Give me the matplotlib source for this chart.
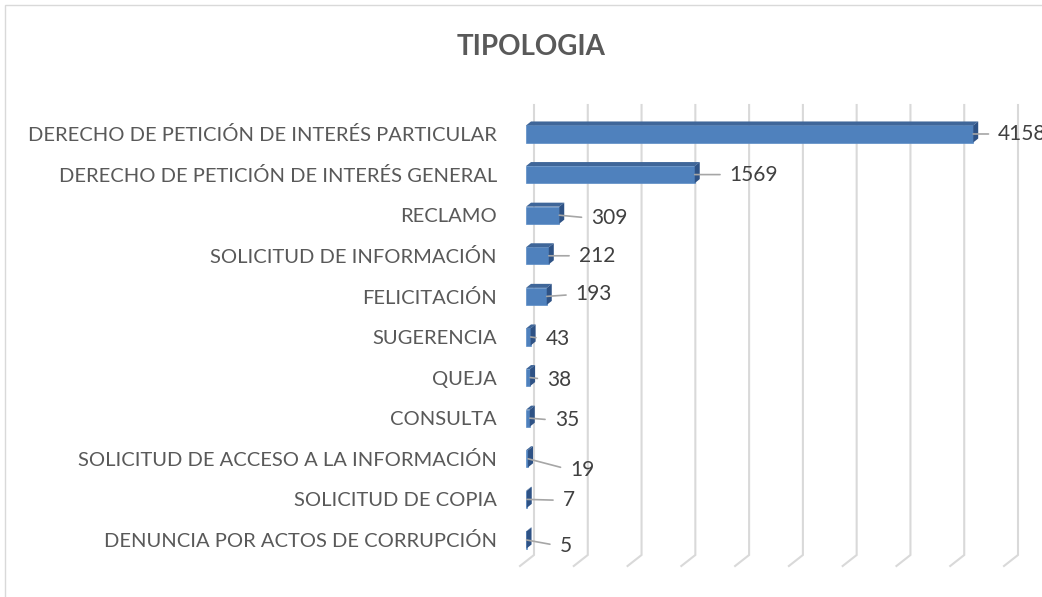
#Program to draw the TIPOLOGIA 3D-style bar chart
import matplotlib.pyplot as plt
from matplotlib.patches import Polygon, Rectangle

categorias = ['DERECHO DE PETICIÓN DE INTERÉS PARTICULAR',
              'DERECHO DE PETICIÓN DE INTERÉS GENERAL',
              'RECLAMO',
              'SOLICITUD DE INFORMACIÓN',
              'FELICITACIÓN',
              'SUGERENCIA',
              'QUEJA',
              'CONSULTA',
              'SOLICITUD DE ACCESO A LA INFORMACIÓN',
              'SOLICITUD DE COPIA',
              'DENUNCIA POR ACTOS DE CORRUPCIÓN']
cantidades = [4158, 1569, 309, 212, 193, 43, 38, 35, 19, 7, 5]
grid_ticks = [0, 500, 1000, 1500, 2000, 2500, 3000, 3500, 4000, 4500]

# label offsets (pixels) from the end of each bar
label_dx = [25, 35, 32, 30, 29, 15, 17, 25, 42, 36, 33]
label_dy = [0, 0, 3, 0, -2, 2, 2, 2, 11, 1, 6]

W, H = 1042, 597
plt.rcParams['font.family'] = ['Lato', 'DejaVu Sans']
fig = plt.figure(figsize=(W / 100, H / 100), dpi=100)

ax_left, ax_right, ax_top, ax_bottom = 526, 1010, 105, 555
ax = fig.add_axes([ax_left / W, (H - ax_bottom) / H,
                   (ax_right - ax_left) / W, (ax_bottom - ax_top) / H])
xmax = 4500
ylo, yhi = -0.714, 10.37
ax.set_xlim(0, xmax)
ax.set_ylim(yhi, ylo)

ppu_x = (ax_right - ax_left) / xmax            # pixels per unit in x
ppu_y = (ax_bottom - ax_top) / (yhi - ylo)     # pixels per category

# gridlines on the back wall plus the slanted floor part
back_dx = 8 / ppu_x
floor_dx = -6 / ppu_x
floor_dy = -11 / (ax_bottom - ax_top)
xt = ax.get_xaxis_transform()
for v in grid_ticks:
    ax.plot([v + back_dx, v + back_dx, v + floor_dx], [1, 0, floor_dy],
            transform=xt, color='#D9D9D9', lw=1.5, clip_on=False, zorder=1,
            solid_joinstyle='miter')

# bars: front face, top face and side face
h = 0.42
pos = list(range(len(categorias)))
ax.barh(pos, cantidades, height=h, color='#4F81BD', edgecolor='#5B8CC6',
        lw=0.5, zorder=3)
dx = 5 / ppu_x
dy = 4 / ppu_y
for i, v in zip(pos, cantidades):
    top = i - h / 2
    bot = i + h / 2
    ax.add_patch(Polygon([(0, top), (v, top), (v + dx, top - dy), (dx, top - dy)],
                         closed=True, fc='#3F6699', ec='none', zorder=3))
    ax.add_patch(Polygon([(v, top), (v + dx, top - dy), (v + dx, bot - dy), (v, bot)],
                         closed=True, fc='#2E5285', ec='none', zorder=3))

# data labels with leader lines
for i, v, lx, ly in zip(pos, cantidades, label_dx, label_dy):
    ax.annotate(str(v), xy=(v, i), xytext=(lx * 0.72, -ly * 0.72),
                textcoords='offset points', ha='left', va='center',
                fontsize=15, color='#404040', zorder=4, annotation_clip=False,
                arrowprops=dict(arrowstyle='-', color='#A6A6A6', lw=1.2,
                                relpos=(0, 0.5), shrinkA=5, shrinkB=0))

# category labels
ax.set_yticks(pos)
ax.set_yticklabels(categorias, fontsize=14.5, color='#595959')
ax.tick_params(axis='y', length=0, pad=(ax_left - 497) * 0.72)
ax.set_xticks([])
for s in ax.spines.values():
    s.set_visible(False)
ax.patch.set_visible(False)

# title
fig.text(531 / W, 1 - 47 / H, 'TIPOLOGIA', ha='center', va='center',
         fontsize=20, fontweight='bold', color='#595959')

# chart area border
fig.patches.append(Rectangle((5 / W, -0.1), 1.2, (H - 5) / H + 0.1,
                             transform=fig.transFigure, fill=False,
                             ec='#D9D9D9', lw=1))

fig.savefig('out.png', dpi=100)
